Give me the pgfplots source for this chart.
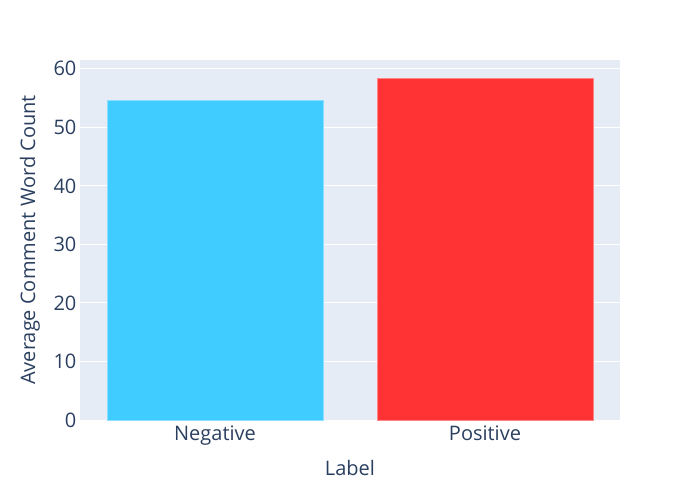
\documentclass[border=0pt]{standalone}
\usepackage{fontspec}
\setmainfont{Open Sans}
\usepackage{pgfplots}
\pgfplotsset{compat=1.18}
\definecolor{bgplot}{HTML}{E5ECF6}
\definecolor{txt}{HTML}{2A3F5F}
\definecolor{negc}{HTML}{40CCFF}
\definecolor{posc}{HTML}{FF3333}

\begin{document}
\begin{tikzpicture}
\begin{axis}[
    name=ax,
    width=405pt, height=270pt, scale only axis,
    xmin=-0.5, xmax=1.5, ymin=0, ymax=61.5,
    xtick={0,1}, xticklabels={Negative,Positive},
    ytick={0,10,...,60},
    axis background/.style={fill=bgplot},
    axis line style={draw=none},
    major tick length=0pt,
    ymajorgrids, grid style={white, line width=0.75pt},
    /pgf/number format/assume math mode=true,
    ticklabel style={font=\fontsize{15}{18}\selectfont, text=txt},
    xticklabel style={anchor=base, inner sep=0pt, yshift=-15.5pt},
    yticklabel style={anchor=east, inner sep=0pt, xshift=-2.5pt},
    xlabel={Label}, ylabel={Average Comment Word Count},
    xlabel style={font=\fontsize{15}{18}\selectfont, text=txt, at={(axis description cs:0.5,0)}, anchor=center, yshift=-36pt},
    ylabel style={font=\fontsize{15}{18}\selectfont, text=txt, at={(axis description cs:0,0.5)}, anchor=center, yshift=37.5pt},
]
\addplot[ybar, bar width=0.8, bar shift=0pt, fill=negc, draw=negc!60!white, line width=0.4pt]
  coordinates {(0,54.6)};
\addplot[ybar, bar width=0.8, bar shift=0pt, fill=posc, draw=posc!60!white, line width=0.4pt]
  coordinates {(1,58.4)};
\end{axis}
\path ([xshift=-60pt,yshift=-60pt]ax.south west) rectangle ([xshift=60pt,yshift=45pt]ax.north east);
\end{tikzpicture}
\end{document}
